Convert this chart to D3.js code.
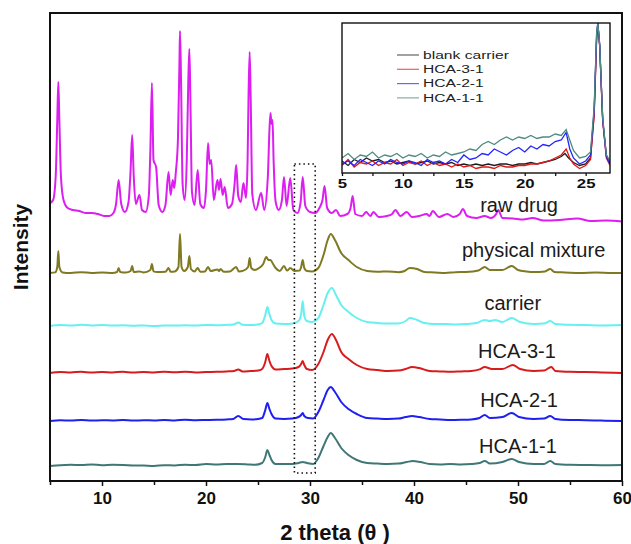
<!DOCTYPE html>
<html>
<head>
<meta charset="utf-8">
<script src="https://cdnjs.cloudflare.com/ajax/libs/d3/7.8.5/d3.min.js"></script>
<style>
    body { margin: 0; background: #fff; }
    svg { font-family: 'Liberation Sans', Arial, sans-serif; }
</style>
</head>
<body>
<svg width="631" height="544"></svg>
<script>
// series names, colours and vertical offsets (stacked patterns)
var names   = ["raw drug", "physical mixture", "carrier", "HCA-3-1", "HCA-2-1", "HCA-1-1"];
var colors  = ["#dc1ef0", "#7f7922", "#66f0f0", "#d81c1c", "#1f1fef", "#3f7775"];
var offsets = [130.5, 104, 77.5, 54, 30, 7.5];
// label position (2theta of label centre, height above baseline)
var labelTheta = [50.1, 51.5, 49.5, 49.9, 50.1, 50.0];
var labelRise  = [4, 8, 8, 7.5, 7, 6.5];

var majorTicks = [10, 20, 30, 40, 50, 60];
var minorTicks = [5, 15, 25, 35, 45, 55];

// [2theta, intensity above baseline]
var rawDrug = [[5.0,8.5],[5.3,10],[5.55,22],[5.7,50],[5.8,69],[5.9,50],[6.05,22],[6.3,10],[6.7,6],[7.2,5],[7.8,4.5],[8.4,3.5],[9.0,3.5],[9.6,3],[10.2,2],[10.7,2],[11.1,3.5],[11.35,8],[11.6,20],[11.85,8],[12.2,4],[12.55,9],[12.75,25],[12.9,42.5],[13.05,22],[13.25,8],[13.6,12.5],[13.85,5],[14.2,4],[14.5,12],[14.65,35],[14.8,68.5],[14.95,30],[15.2,26.5],[15.45,7.5],[15.8,4],[16.1,7.5],[16.4,24],[16.6,12.5],[16.8,20],[16.95,16],[17.1,24],[17.3,40],[17.45,80],[17.5,94.5],[17.6,70],[17.75,18],[17.95,10],[18.15,30],[18.3,70],[18.4,85.5],[18.5,60],[18.65,14],[18.9,7.5],[19.2,25],[19.45,8],[19.8,6],[20.0,15],[20.2,38.5],[20.35,28],[20.5,30],[20.75,10],[21.1,20],[21.25,15],[21.4,20.5],[21.6,12.5],[21.8,16.5],[22.1,6],[22.5,8],[22.75,18],[22.9,27.5],[23.1,12],[23.35,9],[23.6,18.5],[23.85,11],[24.0,30],[24.1,65],[24.2,84],[24.3,60],[24.45,13],[24.8,5],[25.3,13.5],[25.6,5],[25.95,22],[26.1,45],[26.2,53.5],[26.3,48],[26.4,50],[26.5,30],[26.7,9],[27.0,5],[27.3,10],[27.5,21.5],[27.75,7],[28.1,21],[28.4,5],[28.8,3.5],[29.1,9],[29.3,21.5],[29.55,7],[30.0,4],[30.5,3.5],[30.9,6],[31.2,10],[31.4,17],[31.65,6],[32.1,3.5],[32.5,5],[32.9,2],[33.6,3],[33.9,6],[34.1,12],[34.35,3],[35.0,2],[35.4,4],[35.8,2],[36.1,4],[36.6,1.5],[37.4,2],[37.9,3],[38.2,5],[38.7,2],[39.3,4],[39.8,1.5],[40.5,2],[41.2,3],[41.5,2],[41.8,4.5],[42.4,1.5],[43.2,3],[43.8,1.5],[44.4,3],[44.7,5.5],[45.1,2],[46.0,1],[46.8,2],[47.4,1],[47.9,3],[48.1,5],[48.5,1],[49.5,0.8],[50.5,0.2],[51.4,1],[52.5,-0.3],[54,0],[55.7,0.8],[57,-0.5],[58.5,-0.3],[60,-0.8]];

var physMix = [[5,0],[5.5,0.3],[5.7,3],[5.8,11],[5.9,3],[6.2,0.3],[7,0],[8,0.4],[9,0],[10,0.3],[11,0],[11.45,0.5],[11.6,2.5],[11.75,0.5],[12.3,0.2],[12.75,1],[12.9,3.5],[13.05,0.5],[13.6,0.8],[14,0.3],[14.65,1.5],[14.8,4.5],[14.95,0.8],[15.3,0.5],[16.1,0.6],[16.4,2.5],[16.6,0.6],[17.0,0.8],[17.35,3],[17.5,19.5],[17.65,3],[17.9,1],[18.25,3],[18.4,8.5],[18.55,2],[18.9,0.8],[19.2,2.5],[19.45,0.6],[19.9,0.8],[20.2,3],[20.45,1],[21.1,1.8],[21.25,1],[21.4,2],[21.7,0.6],[22.3,0.8],[22.9,3],[23.15,0.8],[23.6,1.2],[24.05,3],[24.2,7.5],[24.35,2.5],[24.7,1.5],[25.1,2.5],[25.5,4.5],[25.8,8],[26.0,6.5],[26.2,6.5],[26.45,4.5],[26.7,2.5],[27.1,1],[27.5,3.5],[27.8,1.2],[28.1,2.5],[28.5,1],[29.0,1.2],[29.15,3],[29.3,6.5],[29.45,2.5],[29.7,1],[30.2,0.8],[30.8,2.5],[31.3,9],[31.7,16.5],[32.0,19.5],[32.4,16.5],[33.0,10],[33.7,6.5],[34.5,3],[35.5,1],[36.5,0.6],[37.5,0.8],[38.5,0.4],[39.1,1],[39.6,2.5],[40.3,2],[41,0.5],[42,0.3],[43,0],[44,0.4],[45,0.5],[46.2,1.2],[46.8,3],[47.3,1.5],[48.5,1.5],[49.4,3.5],[50.0,1.5],[50.8,0.8],[51.5,0.5],[52.6,0.8],[53.1,2],[53.5,0.5],[54.5,0.3],[56,0],[57.5,0.3],[59,0],[60,0]];

var carrier = [[5,0],[6,0.5],[7,0.2],[8,0.6],[9,0.3],[10,0.5],[11,0.2],[12,0.4],[13,0.1],[14,0.3],[15,0],[16,0.3],[17,0.2],[18,0.4],[19,0.2],[20,0.5],[21,0.4],[22,0.6],[22.7,0.8],[23.1,1.8],[23.5,0.6],[24.2,0.5],[25.0,0.8],[25.4,1.5],[25.7,5.5],[25.9,9.5],[26.1,6],[26.3,3],[26.7,1.2],[27.5,1],[28.3,1.3],[28.9,2.5],[29.15,6],[29.3,12.5],[29.45,5],[29.7,2.5],[30.2,2],[30.8,4],[31.3,10.5],[31.7,16.5],[32.1,19],[32.5,15.5],[33.0,10.5],[33.7,7],[34.5,4],[35.5,2],[36.5,1.5],[37.5,1.2],[38.5,1.3],[39.2,2.5],[39.6,4],[40.3,3],[41,1.5],[42,1],[43,1],[44,0.8],[45,1],[46,1.5],[46.8,3],[47.3,2.5],[47.8,3],[48.5,2],[49.4,4],[50.2,2],[51.5,1],[52.5,1.2],[53.1,2.5],[53.6,1],[55,0.6],[56.5,0.5],[58,0.3],[60,0.5]];

var hca31 = [[5,0],[6,0.5],[7,0.3],[8,0.6],[9,0.2],[10,0.5],[11,0.3],[12,0.6],[13,0.2],[14,0.5],[15,0.3],[16,0.6],[17,0.4],[18,0.6],[19,0.3],[20,0.5],[21,0.6],[22,0.8],[22.7,1],[23.1,1.8],[23.5,0.8],[24.3,1],[25.0,1.2],[25.4,2],[25.7,5.5],[25.9,9.5],[26.1,6],[26.3,3.5],[26.7,1.8],[27.5,2],[28.3,2.2],[28.9,3],[29.15,4.5],[29.3,6],[29.45,4],[29.7,2],[30.2,1.5],[30.8,4.5],[31.3,10.5],[31.7,16.5],[32.1,19.5],[32.5,16.5],[33.0,10.5],[33.7,7],[34.5,4],[35.5,2],[36.5,1.5],[37.5,1],[38.5,1.2],[39.2,2],[39.8,3],[40.5,2.5],[41.5,1],[42.5,0.8],[43.5,0.6],[44.5,0.8],[45.5,1],[46.3,1.8],[46.8,3],[47.5,2],[48.5,2],[49.5,4],[50.2,2],[51.5,1],[52.5,1.2],[53.2,3],[53.6,1],[55,0.6],[56.5,0.5],[58,0.3],[60,0]];

var hca21 = [[5,0],[6,0.4],[7,0.2],[8,0.5],[9,0.2],[10,0.4],[11,0.3],[12,0.5],[13,0.2],[14,0.4],[15,0.3],[16,0.5],[17,0.3],[18,0.6],[19,0.4],[20,0.5],[21,0.6],[22,0.8],[22.6,1],[23.1,2.5],[23.6,1],[24.4,0.8],[25.0,1],[25.4,1.5],[25.7,5.5],[25.9,9],[26.1,6],[26.3,3.5],[26.7,1.2],[27.5,1],[28.3,1.2],[28.9,2],[29.15,3],[29.3,4],[29.45,2.5],[29.8,1.5],[30.3,1.3],[30.8,4.5],[31.3,10.5],[31.7,15.5],[32.0,17],[32.4,14.5],[33.0,9.5],[33.7,6],[34.5,3.5],[35.5,1.5],[36.5,1.2],[37.5,1],[38.5,1.2],[39.2,2],[39.8,2.5],[40.5,2],[41.5,1],[42.5,0.8],[43.5,0.5],[44.5,0.6],[45.5,0.8],[46.3,1.5],[46.8,3],[47.3,1.5],[48.5,2],[49.4,4],[50.1,2],[51.5,1],[52.5,1.2],[53.1,2.5],[53.6,1],[55,0.5],[56.5,0.4],[58,0.2],[60,0]];

var hca11 = [[5,0],[6,0.4],[7,0.6],[8,0.5],[9,0.8],[10,0.4],[11,0.6],[12,0.5],[13,0.3],[14,0.2],[15,0],[16,0.4],[17,0.3],[18,0.6],[19,0.5],[20,1],[21,0.8],[22,1],[23,1],[24,0.8],[24.7,0.6],[25.4,1.5],[25.7,4.5],[25.9,8],[26.1,5.5],[26.3,3],[26.7,1],[27.5,1],[28.3,1],[28.9,1.5],[29.3,2],[29.7,1.5],[30.3,1],[30.8,4],[31.3,10],[31.7,14.5],[32.0,16.5],[32.4,14],[33.0,9],[33.7,5.5],[34.5,3],[35.5,1.5],[36.5,1.2],[37.5,1],[38.5,1.2],[39.3,2],[39.9,2.5],[40.6,2],[41.5,1],[42.5,0.8],[43.5,1],[44.5,0.8],[45.5,1],[46.3,1.5],[46.8,2.5],[47.3,1.2],[48.5,2],[49.4,3.5],[50.1,2],[51.5,1],[52.5,1],[53.1,2.5],[53.6,1],[55,0.6],[56.5,0.5],[58,0.4],[60,0.5]];

var patterns = [rawDrug, physMix, carrier, hca31, hca21, hca11];

// inset: low-angle region, normalised intensity
var insetNames  = ["blank carrier", "HCA-3-1", "HCA-2-1", "HCA-1-1"];
var insetColors = ["#1e1e1e", "#e01818", "#2424ff", "#4f8a82"];
var insetMajor = [5, 10, 15, 20, 25];
var insetMinor = [7.5, 12.5, 17.5, 22.5];

var blankIn = [[5,8],[5.5,5],[6,9],[6.5,7],[7,10],[7.5,8],[8,9],[8.5,7],[9,8],[9.5,6],[10,7],[10.5,8],[11,6],[11.5,7],[12,8],[12.5,6],[13,7],[13.5,6],[14,7],[14.5,5],[15,6],[15.5,5],[16,6],[16.5,5],[17,6],[17.5,5],[18,6],[18.5,6],[19,5],[19.5,6],[20,6],[20.5,7],[21,6],[21.5,7],[22,8],[22.5,9],[23,11],[23.3,13],[23.6,10],[24,7],[24.5,5],[25,6],[25.4,10],[25.7,40],[25.9,90],[26.0,100],[26.15,85],[26.4,35],[26.7,12],[27,7]];
var hca31In = [[5,5],[5.5,9],[6,4],[6.5,7],[7,6],[7.5,8],[8,5],[8.5,7],[9,6],[9.5,9],[10,5],[10.5,7],[11,6],[11.5,8],[12,5],[12.5,7],[13,5],[13.5,6],[14,4],[14.5,6],[15,4],[15.5,5],[16,3],[16.5,4],[17,4],[17.5,3],[18,5],[18.5,4],[19,4],[19.5,5],[20,5],[20.5,6],[21,6],[21.5,7],[22,8],[22.5,10],[23,12],[23.4,16],[23.7,10],[24,6],[24.5,3],[25,5],[25.4,9],[25.7,38],[25.9,88],[26.0,99],[26.15,85],[26.4,35],[26.7,10],[27,5]];
var hca21In = [[5,6],[5.5,8],[6,5],[6.5,9],[7,7],[7.5,5],[8,8],[8.5,6],[9,9],[9.5,7],[10,6],[10.5,8],[11,7],[11.5,5],[12,9],[12.5,7],[13,8],[13.5,6],[14,9],[14.5,7],[15,12],[15.5,9],[16,10],[16.5,13],[17,12],[17.5,16],[18,14],[18.5,12],[19,15],[19.5,17],[20,14],[20.5,18],[21,16],[21.5,19],[22,18],[22.5,21],[23,22],[23.4,27],[23.7,16],[24,10],[24.5,6],[25,8],[25.4,12],[25.7,42],[25.9,92],[26.0,100],[26.15,86],[26.4,36],[26.7,11],[27,6]];
var hca11In = [[5,10],[5.5,13],[6,9],[6.5,12],[7,11],[7.5,14],[8,10],[8.5,12],[9,11],[9.5,13],[10,10],[10.5,12],[11,11],[11.5,13],[12,10],[12.5,12],[13,11],[13.5,14],[14,12],[14.5,13],[15,14],[15.5,16],[16,15],[16.5,19],[17,21],[17.5,19],[18,22],[18.5,24],[19,22],[19.5,24],[20,23],[20.5,25],[21,23],[21.5,24],[22,24],[22.5,26],[23,25],[23.4,29],[23.7,22],[24,15],[24.5,10],[25,11],[25.4,14],[25.7,44],[25.9,93],[26.0,100],[26.15,86],[26.4,37],[26.7,12],[27,8]];
var insetPatterns = [blankIn, hca31In, hca21In, hca11In];

var svg = d3.select("svg");

//main scales
var x = d3.scaleLinear().domain([5, 60]).range([50, 622]),
    y = d3.scaleLinear().domain([0, 234]).range([481, 13]);

// x axis, major + minor ticks
var xAxis = svg.append("g")
    .attr("transform", "translate(0," + y(0) + ")")
    .call(d3.axisBottom(x).tickValues(majorTicks).tickSize(5).tickPadding(6).tickFormat(d3.format("d")));
xAxis.select(".domain").remove();
xAxis.selectAll("line").attr("stroke", "#111").attr("stroke-width", 1.5);
xAxis.selectAll("text").style("font", "bold 17px 'Liberation Sans', Arial, sans-serif").attr("fill", "#111");

var xMinor = svg.append("g")
    .attr("transform", "translate(0," + y(0) + ")")
    .call(d3.axisBottom(x).tickValues(minorTicks).tickSize(4).tickFormat(""));
xMinor.select(".domain").remove();
xMinor.selectAll("line").attr("stroke", "#111").attr("stroke-width", 1.5);

// patterns
var line = d3.line()
    .x(function(d) { return x(d[0]); })
    .curve(d3.curveMonotoneX);

patterns.forEach(function(p, i) {
    svg.append("path")
        .datum(p)
        .attr("fill", "none")
        .attr("stroke", colors[i])
        .attr("stroke-width", 2)
        .attr("stroke-linejoin", "round")
        .attr("d", line.y(function(d) { return y(d[1] + offsets[i]); }));

    svg.append("text")
        .attr("x", x(labelTheta[i]))
        .attr("y", y(offsets[i] + labelRise[i]))
        .attr("text-anchor", "middle")
        .style("font", "20px 'Liberation Sans', Arial, sans-serif")
        .attr("fill", "#1a1a1a")
        .text(names[i]);
});

// dotted box round the 29.3 reflection
svg.append("rect")
    .attr("x", x(28.5))
    .attr("y", y(158.5))
    .attr("width", x(30.5) - x(28.5))
    .attr("height", y(4) - y(158.5))
    .attr("fill", "none")
    .attr("stroke", "#111")
    .attr("stroke-width", 1.6)
    .attr("stroke-dasharray", "1.5,3");

// frame
svg.append("rect")
    .attr("x", x(5)).attr("y", y(234))
    .attr("width", x(60) - x(5)).attr("height", y(0) - y(234))
    .attr("fill", "none").attr("stroke", "#111").attr("stroke-width", 2);

// axis titles
svg.append("text")
    .attr("x", 335).attr("y", 540)
    .attr("text-anchor", "middle")
    .style("font", "bold 22px 'Liberation Sans', Arial, sans-serif")
    .attr("fill", "#111")
    .text("2 theta (\u03b8 )");

svg.append("text")
    .attr("transform", "translate(28,247) rotate(-90)")
    .attr("text-anchor", "middle")
    .style("font", "bold 21px 'Liberation Sans', Arial, sans-serif")
    .attr("fill", "#111")
    .text("Intensity");

// inset
var ix = d3.scaleLinear().domain([5, 27]).range([342, 610]),
    iy = d3.scaleLinear().domain([0, 100]).range([173, 23]);

svg.append("rect")
    .attr("x", ix(5)).attr("y", iy(100))
    .attr("width", ix(27) - ix(5)).attr("height", iy(0) - iy(100))
    .attr("fill", "#fff");

svg.append("clipPath").attr("id", "insetClip")
    .append("rect")
    .attr("x", ix(5)).attr("y", iy(100))
    .attr("width", ix(27) - ix(5)).attr("height", iy(0) - iy(100));

var iline = d3.line()
    .x(function(d) { return ix(d[0]); })
    .y(function(d) { return iy(d[1]); });

var ig = svg.append("g").attr("clip-path", "url(#insetClip)");
insetPatterns.forEach(function(p, i) {
    ig.append("path")
        .datum(p)
        .attr("fill", "none")
        .attr("stroke", insetColors[i])
        .attr("stroke-width", 1.3)
        .attr("d", iline);
});

svg.append("rect")
    .attr("x", ix(5)).attr("y", iy(100))
    .attr("width", ix(27) - ix(5)).attr("height", iy(0) - iy(100))
    .attr("fill", "none").attr("stroke", "#111").attr("stroke-width", 1.4);

var ixAxis = svg.append("g")
    .attr("transform", "translate(0," + iy(0) + ")")
    .call(d3.axisBottom(ix).tickValues(insetMajor).tickSize(3).tickPadding(3));
ixAxis.select(".domain").remove();
ixAxis.selectAll("line").attr("stroke", "#111").attr("stroke-width", 1.3);
ixAxis.selectAll("text")
    .style("font", "bold 12px 'Liberation Sans', Arial, sans-serif")
    .attr("fill", "#111")
    .attr("transform", "scale(1.4,1)");

var ixMinor = svg.append("g")
    .attr("transform", "translate(0," + iy(0) + ")")
    .call(d3.axisBottom(ix).tickValues(insetMinor).tickSize(3).tickFormat(""));
ixMinor.select(".domain").remove();
ixMinor.selectAll("line").attr("stroke", "#111").attr("stroke-width", 1.3);

// inset legend
var legend = svg.selectAll(".legend")
    .data(insetNames)
    .enter().append("g")
    .attr("class", "legend")
    .attr("transform", function(d, i) { return "translate(397," + (55 + i * 14.3) + ")"; });
legend.append("line")
    .attr("x1", 0).attr("x2", 22)
    .attr("stroke", function(d, i) { return insetColors[i]; })
    .attr("stroke-opacity", 0.7)
    .attr("stroke-width", 1.2);
legend.append("text")
    .attr("x", 0).attr("dy", "0.35em")
    .attr("transform", "translate(26,0) scale(1.42,1)")
    .style("font", "11px 'Liberation Sans', Arial, sans-serif")
    .attr("fill", "#222")
    .text(function(d) { return d; });
</script>
</body>
</html>
